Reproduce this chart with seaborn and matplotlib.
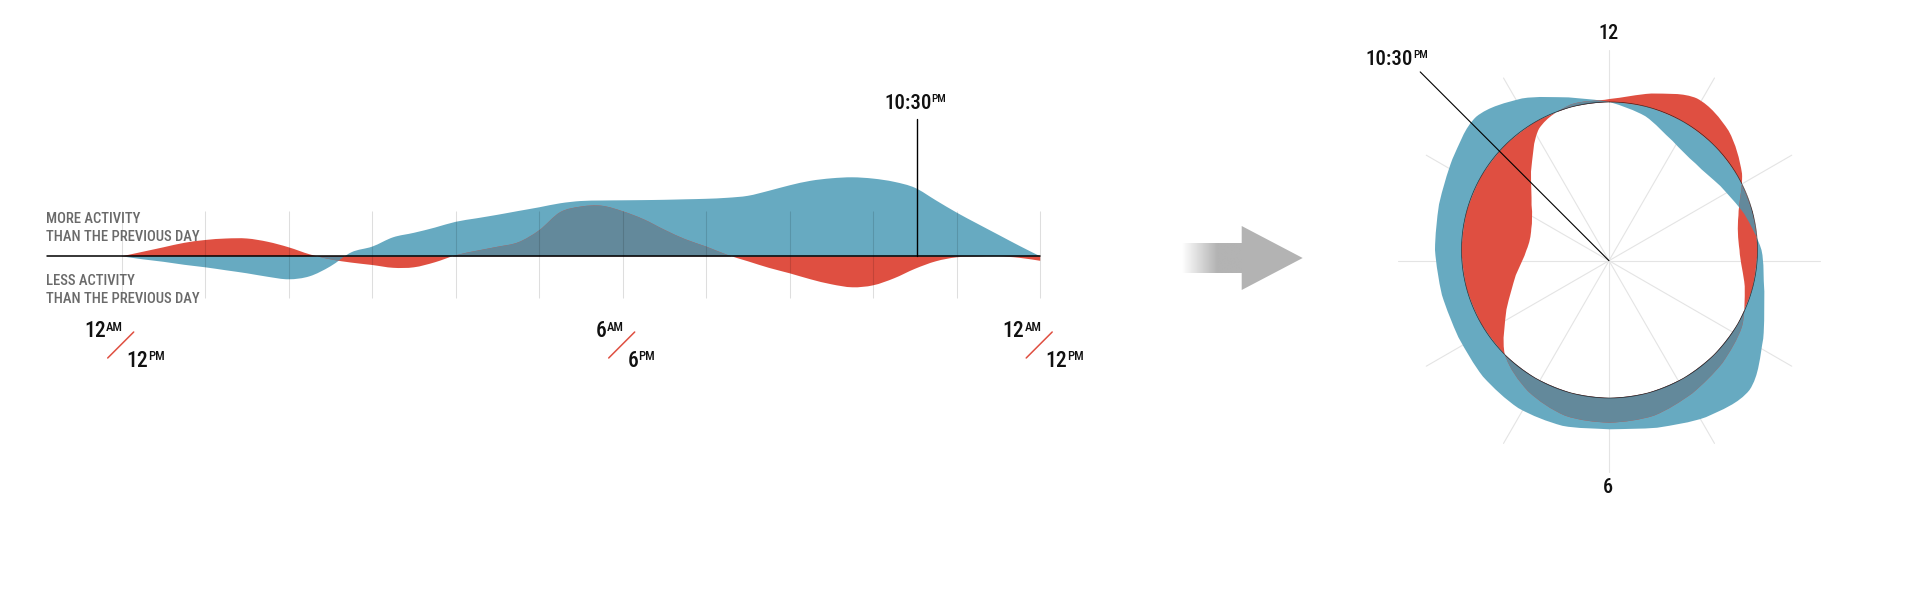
import numpy as np
import pandas as pd
import matplotlib
matplotlib.use("Agg")
import matplotlib.pyplot as plt
import seaborn as sns
from matplotlib import font_manager
from matplotlib.path import Path
from matplotlib.patches import Polygon, PathPatch
from matplotlib.colors import LinearSegmentedColormap

sns.set_theme(style="white")

# pick the narrowest face that is installed
ttf = font_manager.fontManager.ttflist
names = {f.name for f in ttf}
if "Roboto Condensed" in names:
    FAM, STRETCH, NARROW = "Roboto Condensed", "normal", True
elif "Liberation Sans Narrow" in names:
    FAM, STRETCH, NARROW = "Liberation Sans Narrow", "normal", True
elif any(f.name == "DejaVu Sans" and f.stretch == "condensed" for f in ttf):
    FAM, STRETCH, NARROW = "DejaVu Sans", "condensed", True
else:
    FAM, STRETCH, NARROW = "Liberation Sans", "normal", False
plt.rcParams['font.family'] = [FAM, 'DejaVu Sans']
plt.rcParams['font.stretch'] = STRETCH
FS = 1.0 if NARROW else 0.85

W, H, DPI = 1920, 600, 100
BLUE = "#67aac1"
RED = "#df4f41"
DARK = "#63899b"
GREY_TXT = "#6a6a6a"

# ---- left chart: change vs previous day, one grid step = one hour ----
hour_pos = np.arange(0, 11.01, 0.25)
blue_change = [0, -3, -5.5, -8.5, -11, -14, -17, -20.5, -23, -20, -10, 4,
               9.7, 19, 23.5, 28.7, 34.5, 38, 41.5, 45.3, 49, 53, 55.3, 55.8,
               56, 56.2, 56.5, 57, 57.5, 58.5, 60.5, 65.5, 71, 75.5, 78, 79,
               77.7, 74.5, 68.5, 56, 43.7, 32.5, 21.5, 10.5, 0]
red_change = [0, 4.5, 9, 13.5, 16.3, 17.8, 17.8, 14.5, 9, 2, -3, -6.3,
              -8.7, -11.5, -11, -6, 1, 5.5, 9.5, 14, 26, 44, 49.7, 50.5,
              45, 37, 26.5, 17, 9.7, 1.5, -5, -11.5, -17, -23, -28, -31,
              -29, -22, -12.5, -5, -1, -0.3, 0, -1.5, -4.5]
tick_pos = [0, 6, 11]
tick_am = ["12", "6", "12"]
tick_pm = ["12", "6", "12"]
marker_pos = 9.52
marker_text = "10:30"

# ---- clock chart: 12 hour dial, offsets from the base ring ----
polar_deg = np.arange(0, 361, 15)
polar_blue = [0, -9.5, -22, -26, -20, -8.5, 4, 12.3, 29.5, 50, 45, 36, 31.3,
              34, 34.5, 31, 26.5, 25.5, 26.5, 28.5, 33.5, 40.5, 27, 10, 0]
polar_red = [3, 14, 27, 20.5, 5, -14.5, -18, -8, 5, 11.7, 17.5, 23.5, 24.7,
             23.5, 15, 0, -29, -51, -65, -67, -58, -37, -7.5, 2.5, 3]
dial_labels = {0: "12", 180: "6"}
marker_hour = 10.5

df = pd.DataFrame({"pos": hour_pos, "blue": blue_change, "red": red_change})
pf = pd.DataFrame({"theta": np.deg2rad(polar_deg), "blue": polar_blue, "red": polar_red})


def bezier_through(pts, p_prev, p_next):
    """Catmull-Rom curve through pts, written as cubic Bezier segments."""
    ext = np.vstack([p_prev, pts, p_next])
    verts = []
    for i in range(1, len(ext) - 2):
        p0, p1, p2, p3 = ext[i - 1], ext[i], ext[i + 1], ext[i + 2]
        verts += [p1 + (p2 - p0) / 6, p2 - (p3 - p1) / 6, p2]
    return verts


def area_path(x, y):
    pts = np.column_stack([x, y]).astype(float)
    curve = bezier_through(pts, pts[0], pts[-1])
    verts = [(pts[0, 0], 0), pts[0]] + curve + [(pts[-1, 0], 0), (pts[0, 0], 0)]
    codes = [Path.MOVETO, Path.LINETO] + [Path.CURVE4] * len(curve) + [Path.LINETO, Path.CLOSEPOLY]
    return Path(np.array(verts, float), codes)


def ring_path(theta, r, r0):
    period = 2 * np.pi
    out = np.column_stack([theta, r0 + np.asarray(r, float)])
    c_out = bezier_through(out, out[-2] - (period, 0), out[1] + (period, 0))
    base = np.column_stack([theta[::-1], np.full(len(theta), r0)])
    c_base = bezier_through(base, base[0] + (period / 24, 0), base[-1] - (period / 24, 0))
    verts = [(theta[0], r0), out[0]] + c_out + [base[0]] + c_base + [(theta[0], r0)]
    codes = ([Path.MOVETO, Path.LINETO] + [Path.CURVE4] * len(c_out) + [Path.LINETO]
             + [Path.CURVE4] * len(c_base) + [Path.CLOSEPOLY])
    return Path(np.array(verts, float), codes)


def draw_pair(a, blue_path, red_path):
    bp = a.add_patch(PathPatch(blue_path, facecolor=BLUE, lw=0, transform=a.transData))
    a.add_patch(PathPatch(red_path, facecolor=RED, lw=0, transform=a.transData))
    ov = a.add_patch(PathPatch(red_path, facecolor=DARK, lw=0, transform=a.transData))
    ov.set_clip_path(bp)


fig = plt.figure(figsize=(W / DPI, H / DPI), dpi=DPI)
fig.patch.set_facecolor("white")

# pixel overlay (arrow)
px_ax = fig.add_axes([0, 0, 1, 1], zorder=0)
fade = LinearSegmentedColormap.from_list("fade", ["white", "#b3b3b3"])
grad = np.clip(np.linspace(0, 1, 200) / 0.58, 0, 1)[None, :]
px_ax.imshow(grad, cmap=fade, extent=(1181.7, 1242.5, 273.3, 243.3),
             aspect="auto", interpolation="bilinear", vmin=0, vmax=1)
px_ax.add_patch(Polygon([(1241.7, 226), (1241.7, 290), (1302.7, 258)],
                        closed=True, color="#b3b3b3", lw=0))
px_ax.set_xlim(0, W)
px_ax.set_ylim(H, 0)
px_ax.axis("off")

# left chart, one data unit on y = one pixel
X0, STEP, Y0 = 121.7, 83.5, 256.3
ax = fig.add_axes([0, 0, 1100 / W, 1], zorder=2)
draw_pair(ax, area_path(df.pos, df.blue), area_path(df.pos, df.red))
ax.vlines(np.arange(12), -42, 45.3, color="black", alpha=0.13, lw=0.75)
sns.lineplot(x=[-0.9, 11], y=[0, 0], ax=ax, color="black", lw=1.1)
ax.plot([marker_pos, marker_pos], [0, 137], color="black", lw=1.0)
ax.set_xlim(-X0 / STEP, (1100 - X0) / STEP)
ax.set_ylim(Y0 - H, Y0)
ax.axis("off")
for p in tick_pos:
    ax.plot([p + 12 / STEP, p - 14 / STEP], [Y0 - 332, Y0 - 358], color=RED, lw=1.1)


# clock chart
def polar_axes(cx, cy, R, z):
    a = fig.add_axes([(cx - R) / W, 1 - (cy + R) / H, 2 * R / W, 2 * R / H],
                     projection="polar", zorder=z)
    a.set_theta_zero_location("N")
    a.set_theta_direction(-1)
    a.set_ylim(0, R)
    a.axis("off")
    return a


SCX, SCY = 1609, 260.7           # spoke centre
RCX, RCY, R0 = 1609.5, 250, 148  # base ring
spoke_ax = polar_axes(SCX, SCY, 300, 3)
for t in np.deg2rad(np.arange(0, 360, 30)):
    spoke_ax.plot([t, t], [0, 211], color="#e4e4e4", lw=0.8)

band_ax = polar_axes(RCX, RCY, 300, 4)
draw_pair(band_ax, ring_path(pf.theta.values, pf.blue, R0), ring_path(pf.theta.values, pf.red, R0))
ring = np.linspace(0, 2 * np.pi, 361)
band_ax.plot(ring, np.full_like(ring, R0), color="black", lw=0.5, alpha=0.7)
band_ax.set_ylim(0, 300)

top_ax = polar_axes(SCX, SCY, 300, 5)
mt = np.deg2rad(marker_hour / 12 * 360)
top_ax.plot([mt, mt], [0, 267], color="black", lw=0.8)

# ---- text ----
renderer = fig.canvas.get_renderer()
CAP = 0.72


def px_text(x, y, s, size, ha, color="#111111"):
    return fig.text(x / W, 1 - y / H, s, fontsize=size * FS, ha=ha, va="baseline",
                    color=color, fontweight="medium", zorder=10)


def sup_label(x, y, main, sup, align, main_size=15.5, sup_size=9):
    shift = CAP * (main_size - sup_size) * FS * DPI / 72
    if align == "right":
        t = px_text(x, y - shift, sup, sup_size, "right")
        left = t.get_window_extent(renderer).x0
        px_text(left, y, main, main_size, "right")
    else:
        t = px_text(x, y, main, main_size, "left")
        right = t.get_window_extent(renderer).x1
        px_text(right, y - shift, sup, sup_size, "left")


for text, yb in [("MORE ACTIVITY", 222.7), ("THAN THE PREVIOUS DAY", 240.7),
                 ("LESS ACTIVITY", 285), ("THAN THE PREVIOUS DAY", 303.3)]:
    px_text(46, yb, text, 10.5, "left", GREY_TXT)

for p, am, pm in zip(tick_pos, tick_am, tick_pm):
    gx = X0 + STEP * p
    sup_label(gx + 1, 337.3, am, "AM", "right")
    sup_label(gx + 5, 366.7, pm, "PM", "left")

mx = X0 + STEP * marker_pos
for xr, yb in [(mx + 15, 109.3), (1413.3, 65)]:
    t = px_text(xr, yb, marker_text, 15, "right")
    px_text(t.get_window_extent(renderer).x1, yb - CAP * 7 * FS * DPI / 72, "PM", 8, "left")

for deg, lab in dial_labels.items():
    yb = 39.3 if deg == 0 else 493.3
    px_text(SCX - 1, yb, lab, 14.5, "center")

fig.savefig("out.png", dpi=DPI, facecolor="white")
